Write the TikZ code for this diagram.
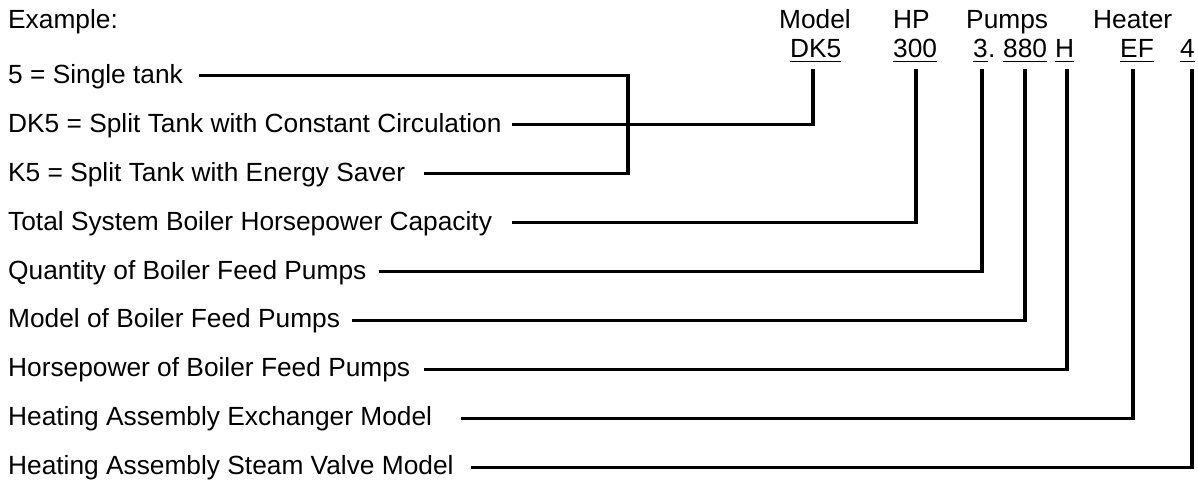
\documentclass[tikz,border=0pt]{standalone}
\usepackage{fontspec}
\setmainfont{Liberation Sans}
\usetikzlibrary{calc}
\newcommand\ulx[1]{\setbox0\hbox{#1}\rlap{\vrule width\wd0 height -3.1pt depth 4.9pt}\box0}
\begin{document}
\begin{tikzpicture}[x=1pt,y=-1pt,
  lbl/.style={anchor=base west, inner sep=0pt, font=\fontsize{26.3}{30}\selectfont},
  conn/.style={draw=black, line width=3.4pt, line join=miter}]
\useasboundingbox (0,0) rectangle (1198,479);
% header
\node[lbl] (ex) at (8,28.5) {Example:};
\node[lbl] (hModel) at (779,28.5) {Model};
\node[lbl] (hHP) at (893,28.5) {HP};
\node[lbl] (hPumps) at (966,28.5) {Pumps};
\node[lbl] (hHeater) at (1093,28.5) {Heater};
\node[lbl] (cDK) at (790,57.5) {\ulx{DK5}};
\node[lbl] (cHP) at (893,57.5) {\ulx{300}};
\node[lbl] (cQ) at (973,57.5) {\ulx{3}};
\node[lbl] (cDot) at (988,57.5) {.};
\node[lbl] (cM) at (1003,57.5) {\ulx{880}};
\node[lbl] (cH) at (1055,57.5) {\ulx{H}};
\node[lbl] (cEF) at (1120,57.5) {\ulx{EF}};
\node[lbl] (c4) at (1180,57.5) {\ulx{4}};
% rows
\node[lbl] (t0) at (8,83.2) {5 = Single tank};
\node[lbl] (t1) at (8,132.1) {DK5 = Split Tank with Constant Circulation};
\node[lbl] (t2) at (8,181.1) {K5 = Split Tank with Energy Saver};
\node[lbl] (t3) at (8,230.0) {Total System Boiler Horsepower Capacity};
\node[lbl] (t4) at (8,279.0) {Quantity of Boiler Feed Pumps};
\node[lbl] (t5) at (8,327.9) {Model of Boiler Feed Pumps};
\node[lbl] (t6) at (8,376.8) {Horsepower of Boiler Feed Pumps};
\node[lbl] (t7) at (8,425.8) {Heating Assembly Exchanger Model};
\node[lbl] (t8) at (8,474.7) {Heating Assembly Steam Valve Model};
% connector start points
\coordinate (s0) at ($(t0.base east)+(16,-7.5)$);
\coordinate (s1) at ($(t1.base east)+(10,-7.5)$);
\coordinate (s2) at ($(t2.base east)+(19,-7.5)$);
\coordinate (s3) at ($(t3.base east)+(20,-7.5)$);
\coordinate (s4) at ($(t4.base east)+(12,-7.5)$);
\coordinate (s5) at ($(t5.base east)+(12,-7.5)$);
\coordinate (s6) at ($(t6.base east)+(14,-7.5)$);
\coordinate (s7) at ($(t7.base east)+(29,-7.5)$);
\coordinate (s8) at ($(t8.base east)+(17,-7.5)$);
% tick tops under the codes
\coordinate (kDK) at (813,69);
\coordinate (kHP) at (916,69);
\coordinate (kQ) at (982,69);
\coordinate (kM) at (1025,69);
\coordinate (kH) at (1067,69);
\coordinate (kEF) at (1133,69);
\coordinate (k4) at (1192,69);
\coordinate (bk) at (628,0);
% connectors
\draw[conn] (s0) -| (bk |- s2) -- (s2);
\draw[conn] (s1) -| (kDK);
\draw[conn] (s3) -| (kHP);
\draw[conn] (s4) -| (kQ);
\draw[conn] (s5) -| (kM);
\draw[conn] (s6) -| (kH);
\draw[conn] (s7) -| (kEF);
\draw[conn] (s8) -| (k4);
\end{tikzpicture}
\end{document}
